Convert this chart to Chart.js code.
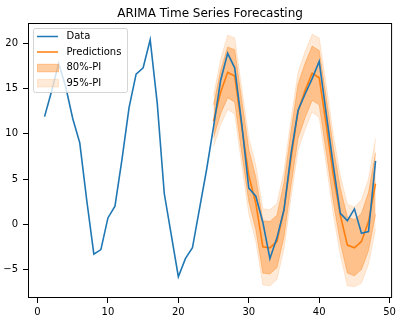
<!DOCTYPE html>
<html>
<head>
<meta charset="utf-8">
<script src="https://cdn.jsdelivr.net/npm/chart.js@4"></script>
<style>
  html, body { margin: 0; padding: 0; background: #fff; }
</style>
</head>
<body>
<canvas id="arimaChart" width="399" height="320"></canvas>
<script>
// observed series, t = 1..48
const steps = [1, 2, 3, 4, 5, 6, 7, 8, 9, 10, 11, 12, 13, 14, 15, 16, 17, 18, 19, 20, 21, 22, 23, 24,
               25, 26, 27, 28, 29, 30, 31, 32, 33, 34, 35, 36, 37, 38, 39, 40, 41, 42, 43, 44, 45, 46, 47, 48];
const observed = [11.9, 14.7, 17.8, 15.2, 11.7, 9.0, 2.6, -3.3, -2.8, 0.7, 2.0, 7.2,
                  12.9, 16.6, 17.3, 20.4, 13.4, 3.4, -1.2, -5.8, -3.8, -2.6, 1.7, 6.0,
                  10.8, 15.9, 18.9, 17.3, 11.1, 4.0, 3.1, 0.2, -3.8, -1.5, 1.6, 7.8,
                  12.6, 14.4, 16.1, 18.0, 12.2, 6.5, 1.2, 0.4, 1.7, -1.0, -0.8, 7.0];

// forecast horizon t = 25..48
const forecastSteps = [25, 26, 27, 28, 29, 30, 31, 32, 33, 34, 35, 36,
                       37, 38, 39, 40, 41, 42, 43, 44, 45, 46, 47, 48];
const predicted = [11.4, 14.6, 16.8, 16.4, 10.8, 5.4, 2.3, -2.5, -2.6, -1.9, 1.6, 7.3,
                   12.5, 14.8, 16.7, 16.2, 11.0, 5.5, 1.0, -2.3, -2.6, -1.9, 0.3, 4.5];
const lower80 = [9.6, 12.2, 14.0, 13.5, 7.9, 2.5, -0.6, -5.4, -5.5, -4.8, -1.4, 4.3,
                 9.5, 11.8, 13.7, 13.2, 8.0, 2.5, -2.0, -5.4, -5.7, -5.0, -2.9, 1.1];
const upper80 = [13.2, 17.0, 19.6, 19.3, 13.7, 8.3, 5.2, 0.4, 0.3, 1.0, 4.6, 10.3,
                 15.5, 17.8, 19.7, 19.2, 14.0, 8.5, 4.0, 0.8, 0.5, 1.2, 3.5, 7.9];
const lower95 = [8.6, 11.0, 12.7, 12.2, 6.6, 1.2, -1.9, -6.7, -6.8, -6.1, -2.7, 3.0,
                 8.2, 10.5, 12.4, 11.8, 6.6, 1.1, -3.4, -6.8, -6.9, -6.5, -4.4, -0.5];
const upper95 = [14.2, 18.2, 20.9, 20.6, 15.0, 9.6, 6.5, 1.7, 1.6, 2.3, 5.9, 11.6,
                 16.8, 19.1, 21.0, 20.6, 15.4, 9.9, 5.4, 2.2, 1.9, 2.7, 5.0, 9.5];

const xTicks = [0, 10, 20, 30, 40, 50];
const yTicks = [-5, 0, 5, 10, 15, 20];

const BLUE = '#1f77b4';
const ORANGE = '#ff7f0e';
const PI80 = 'rgba(255, 127, 14, 0.38)';
const PI95 = 'rgba(255, 127, 14, 0.16)';
const FONT = '"DejaVu Sans", sans-serif';

function pts(xs, ys) {
    return xs.map((x, i) => ({ x: x, y: ys[i] }));
}

// axes frame, title and the legend box inside the plot
const frameAndLegend = {
    id: 'frameAndLegend',
    afterDraw(chart) {
        const ctx = chart.ctx;
        const a = chart.chartArea;
        ctx.save();
        ctx.strokeStyle = '#000';
        ctx.lineWidth = 1;
        ctx.strokeRect(a.left + 0.5, a.top + 0.5, a.right - a.left - 1, a.bottom - a.top - 1);

        ctx.fillStyle = '#000';
        ctx.font = '12px ' + FONT;
        ctx.textAlign = 'center';
        ctx.textBaseline = 'alphabetic';
        ctx.fillText('ARIMA Time Series Forecasting', (a.left + a.right) / 2, 17);

        // legend
        const bx = 33.5, by = 28.5, bw = 94, bh = 64;
        ctx.beginPath();
        ctx.roundRect(bx, by, bw, bh, 2);
        ctx.fillStyle = 'rgba(255,255,255,0.8)';
        ctx.fill();
        ctx.strokeStyle = 'rgba(204,204,204,0.8)';
        ctx.stroke();

        const rows = [
            { label: 'Data', kind: 'line', color: BLUE, y: 36.5 },
            { label: 'Predictions', kind: 'line', color: ORANGE, y: 52 },
            { label: '80%-PI', kind: 'patch', color: PI80, y: 67.8 },
            { label: '95%-PI', kind: 'patch', color: PI95, y: 83 }
        ];
        ctx.font = '10px ' + FONT;
        ctx.textAlign = 'left';
        ctx.textBaseline = 'middle';
        rows.forEach(r => {
            if (r.kind === 'line') {
                ctx.beginPath();
                ctx.moveTo(37, r.y);
                ctx.lineTo(58, r.y);
                ctx.strokeStyle = r.color;
                ctx.lineWidth = 1.5;
                ctx.stroke();
            } else {
                ctx.fillStyle = r.color;
                ctx.fillRect(37.5, r.y - 3.5, 21, 7.5);
                ctx.strokeStyle = r.color;
                ctx.lineWidth = 1;
                ctx.strokeRect(37.5, r.y - 3.5, 21, 7.5);
            }
            ctx.fillStyle = '#000';
            ctx.fillText(r.label, 66.5, r.y);
        });
        ctx.restore();
    }
};

// band edges sit under the two lines (higher order = drawn first)
const bandLine = (data, color, fill) => ({
    data: data,
    borderColor: color,
    backgroundColor: color,
    borderWidth: 1,
    pointRadius: 0,
    fill: fill,
    order: 2
});

new Chart(document.getElementById('arimaChart'), {
    type: 'line',
    data: {
        datasets: [
            { label: 'Data', data: pts(steps, observed), borderColor: BLUE, borderWidth: 1.6,
              pointRadius: 0, fill: false, order: 0 },
            { label: 'Predictions', data: pts(forecastSteps, predicted), borderColor: ORANGE, borderWidth: 1.6,
              pointRadius: 0, fill: false, order: 1 },
            bandLine(pts(forecastSteps, upper80), PI80, '+1'),
            bandLine(pts(forecastSteps, lower80), PI80, false),
            bandLine(pts(forecastSteps, upper95), PI95, '+1'),
            bandLine(pts(forecastSteps, lower95), PI95, false)
        ]
    },
    options: {
        responsive: false,
        animation: false,
        devicePixelRatio: 1,
        layout: { padding: { top: 23, right: 2, left: 0, bottom: 0 }, autoPadding: false },
        plugins: {
            legend: { display: false },
            tooltip: { enabled: false }
        },
        scales: {
            x: {
                type: 'linear',
                min: -1.35,
                max: 50.35,
                afterFit: s => { s.height = 22; },
                afterBuildTicks: s => { s.ticks = xTicks.map(v => ({ value: v })); },
                grid: { drawOnChartArea: false, drawTicks: true, tickLength: 5, color: '#000' },
                border: { display: false },
                ticks: { color: '#000', padding: 3, maxRotation: 0, font: { family: FONT, size: 10 } }
            },
            y: {
                min: -8.15,
                max: 22.25,
                afterFit: s => { s.width = 28; },
                afterBuildTicks: s => { s.ticks = yTicks.map(v => ({ value: v })); },
                grid: { drawOnChartArea: false, drawTicks: true, tickLength: 5, color: '#000' },
                border: { display: false },
                ticks: {
                    color: '#000', padding: 5, font: { family: FONT, size: 10 },
                    callback: v => String(v).replace('-', '\u2212')
                }
            }
        }
    },
    plugins: [frameAndLegend]
});
</script>
</body>
</html>
